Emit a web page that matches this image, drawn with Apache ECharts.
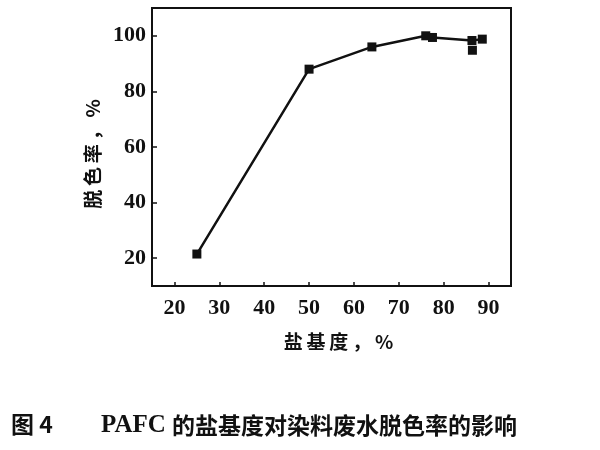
<!DOCTYPE html>
<html lang="zh">
<head>
    <meta charset="UTF-8">
    <title>PAFC 盐基度对脱色率的影响</title>
    <style>
        html, body { margin: 0; padding: 0; background: #fff; }
        #main { width: 600px; height: 450px; }
    </style>
</head>
<body>
    <div id="main"></div>
</body>
<script src="https://cdn.jsdelivr.net/npm/echarts@6/dist/echarts.min.js"></script>
<script>
    // 盐基度 (%) 与 脱色率 (%)
    var basicity = [25, 50, 64, 76, 77.5, 86.3, 88.6];
    var decolor = [21.5, 88, 96, 100, 99.4, 98.3, 98.8];
    // 右侧偏下的单独数据点
    var extraX = [86.4];
    var extraY = [94.8];

    var lineData = basicity.map(function (x, i) { return [x, decolor[i]]; });
    var extraData = extraX.map(function (x, i) { return [x, extraY[i]]; });

    var cjk = '"Noto Sans CJK SC", sans-serif';
    var serif = '"Liberation Serif", "Times New Roman", serif';
    var ts = '\u2009'; // thin space, 字间距

    var myChart = echarts.init(document.getElementById('main'));
    var option = {
        backgroundColor: '#fff',
        animation: false,
        title: [{
            text: '图 4',
            left: 6,
            top: 408,
            textStyle: { fontFamily: cjk, fontSize: 23, fontWeight: 'bold', color: '#111' }
        }, {
            text: '{s|PAFC }的盐基度对染料废水脱色率的影响',
            left: 96,
            top: 408,
            textStyle: {
                fontFamily: cjk, fontSize: 23, fontWeight: 'bold', color: '#111',
                rich: { s: { fontFamily: serif, fontSize: 25, fontWeight: 'bold', color: '#111' } }
            }
        }],
        grid: {
            left: 152, right: 89, top: 8, bottom: 164,
            show: true, borderColor: '#111', borderWidth: 2, backgroundColor: 'transparent'
        },
        xAxis: {
            type: 'value',
            min: 15, max: 95, splitNumber: 8,
            name: ['盐', '基', '度', '，', '%'].join(ts),
            nameLocation: 'middle',
            nameGap: 46,
            nameTextStyle: {
                fontFamily: cjk, fontSize: 19, fontWeight: 'bold', color: '#111',
                padding: [0, 0, 0, 14]
            },
            axisLine: { lineStyle: { color: '#111', width: 2 } },
            axisTick: { inside: true, length: 4, lineStyle: { color: '#111', width: 1.5 } },
            splitLine: { show: false },
            axisLabel: {
                showMinLabel: false, showMaxLabel: false,
                margin: 11,
                fontFamily: serif, fontSize: 22, fontWeight: 'bold', color: '#111'
            }
        },
        yAxis: {
            type: 'value',
            min: 10, max: 110, splitNumber: 5,
            name: ['脱', '色', '率', '，', '%'].join(ts),
            nameLocation: 'middle',
            nameGap: 41,
            nameRotate: 90,
            nameTextStyle: {
                fontFamily: cjk, fontSize: 19, fontWeight: 'bold', color: '#111',
                padding: [0, 14, 0, 0]
            },
            axisLine: { lineStyle: { color: '#111', width: 2 } },
            axisTick: { inside: true, length: 5, lineStyle: { color: '#111', width: 1.5 } },
            splitLine: { show: false },
            axisLabel: {
                showMinLabel: false, showMaxLabel: false,
                margin: 6,
                fontFamily: serif, fontSize: 22, fontWeight: 'bold', color: '#111'
            }
        },
        series: [{
            type: 'line',
            data: lineData,
            symbol: 'rect',
            symbolSize: 9,
            lineStyle: { color: '#111', width: 2.5 },
            itemStyle: { color: '#111' }
        }, {
            type: 'scatter',
            data: extraData,
            symbol: 'rect',
            symbolSize: 9,
            itemStyle: { color: '#111', opacity: 1 }
        }]
    };
    myChart.setOption(option);
</script>
</html>
